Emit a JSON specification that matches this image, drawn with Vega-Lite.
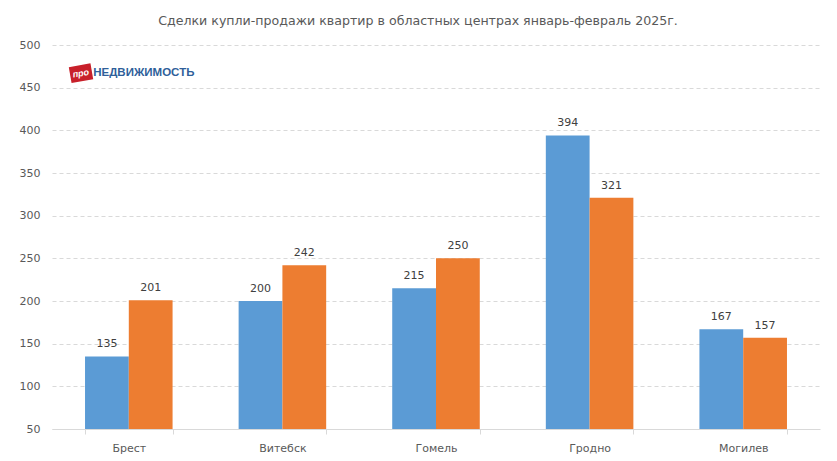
{
  "$schema": "https://vega.github.io/schema/vega-lite/v6.json",
  "width": 768,
  "height": 384,
  "autosize": {"type": "none"},
  "padding": {"left": 52, "top": 45, "right": 17, "bottom": 32},
  "background": "white",
  "title": {
    "text": "Сделки купли-продажи квартир в областных центрах январь-февраль 2025г.",
    "fontSize": 12.6,
    "fontWeight": "normal",
    "font": "DejaVu Sans",
    "color": "#595959",
    "anchor": "middle",
    "dx": -18,
    "offset": 11
  },
  "config": {
    "view": {"stroke": null},
    "font": "DejaVu Sans",
    "axis": {
      "labelFont": "DejaVu Sans",
      "labelFontSize": 11,
      "labelColor": "#595959",
      "title": null
    }
  },
  "datasets": {
    "deals": [
      {"city": "Брест", "period": "2024", "deals": 135},
      {"city": "Брест", "period": "2025", "deals": 201},
      {"city": "Витебск", "period": "2024", "deals": 200},
      {"city": "Витебск", "period": "2025", "deals": 242},
      {"city": "Гомель", "period": "2024", "deals": 215},
      {"city": "Гомель", "period": "2025", "deals": 250},
      {"city": "Гродно", "period": "2024", "deals": 394},
      {"city": "Гродно", "period": "2025", "deals": 321},
      {"city": "Могилев", "period": "2024", "deals": 167},
      {"city": "Могилев", "period": "2025", "deals": 157}
    ],
    "logo": [
      {"city": "Брест", "part": "про"},
      {"city": "Брест", "part": "НЕДВИЖИМОСТЬ"}
    ]
  },
  "layer": [
    {
      "data": {"name": "deals"},
      "encoding": {
        "x": {
          "field": "city",
          "type": "nominal",
          "sort": null,
          "scale": {"paddingInner": 0.43, "paddingOuter": 0.215},
          "axis": {
            "labelAngle": 0,
            "labelPadding": 8,
            "domainColor": "#d9d9d9",
            "tickColor": "#d9d9d9",
            "tickBand": "extent",
            "tickSize": 5,
            "grid": false
          }
        },
        "y": {
          "field": "deals",
          "type": "quantitative",
          "scale": {"domain": [50, 500], "zero": false},
          "axis": {
            "values": [50, 100, 150, 200, 250, 300, 350, 400, 450, 500],
            "domain": false,
            "ticks": false,
            "labelPadding": 12,
            "gridColor": "#d9d9d9",
            "gridDash": [4, 3]
          }
        },
        "xOffset": {"field": "period", "type": "nominal"}
      },
      "layer": [
        {
          "mark": {"type": "bar", "clip": true},
          "encoding": {
            "y2": {"datum": 50},
            "color": {
              "field": "period",
              "type": "nominal",
              "scale": {"range": ["#5b9bd5", "#ed7d31"]},
              "legend": null
            }
          }
        },
        {
          "mark": {"type": "text", "baseline": "bottom", "dy": -7, "fontSize": 11, "color": "#404040"},
          "encoding": {"text": {"field": "deals", "type": "quantitative"}}
        }
      ]
    },
    {
      "data": {"name": "logo"},
      "transform": [{"filter": "datum.part === 'про'"}],
      "mark": {
        "type": "point",
        "filled": true,
        "shape": "M-6.0,-0.597L-3.836,-0.979L-3.558,0.597L-5.724,0.979Z",
        "size": 400,
        "color": "#c8202a",
        "opacity": 1
      },
      "encoding": {
        "x": {"field": "city", "type": "nominal", "sort": null},
        "y": {"datum": 467}
      }
    },
    {
      "data": {"name": "logo"},
      "transform": [{"filter": "datum.part === 'про'"}],
      "mark": {
        "type": "text",
        "dx": -47.3,
        "dy": -8.3,
        "angle": -10,
        "baseline": "middle",
        "fontSize": 9,
        "fontWeight": "bold",
        "fontStyle": "italic",
        "color": "white",
        "font": "Liberation Sans"
      },
      "encoding": {
        "x": {"field": "city", "type": "nominal", "sort": null},
        "y": {"datum": 467},
        "text": {"field": "part"}
      }
    },
    {
      "data": {"name": "logo"},
      "transform": [{"filter": "datum.part !== 'про'"}],
      "mark": {
        "type": "text",
        "dx": 15,
        "baseline": "middle",
        "fontSize": 11.5,
        "fontWeight": "bold",
        "color": "#2f5f9a",
        "font": "Liberation Sans"
      },
      "encoding": {
        "x": {"field": "city", "type": "nominal", "sort": null},
        "y": {"datum": 467},
        "text": {"field": "part"}
      }
    }
  ]
}
